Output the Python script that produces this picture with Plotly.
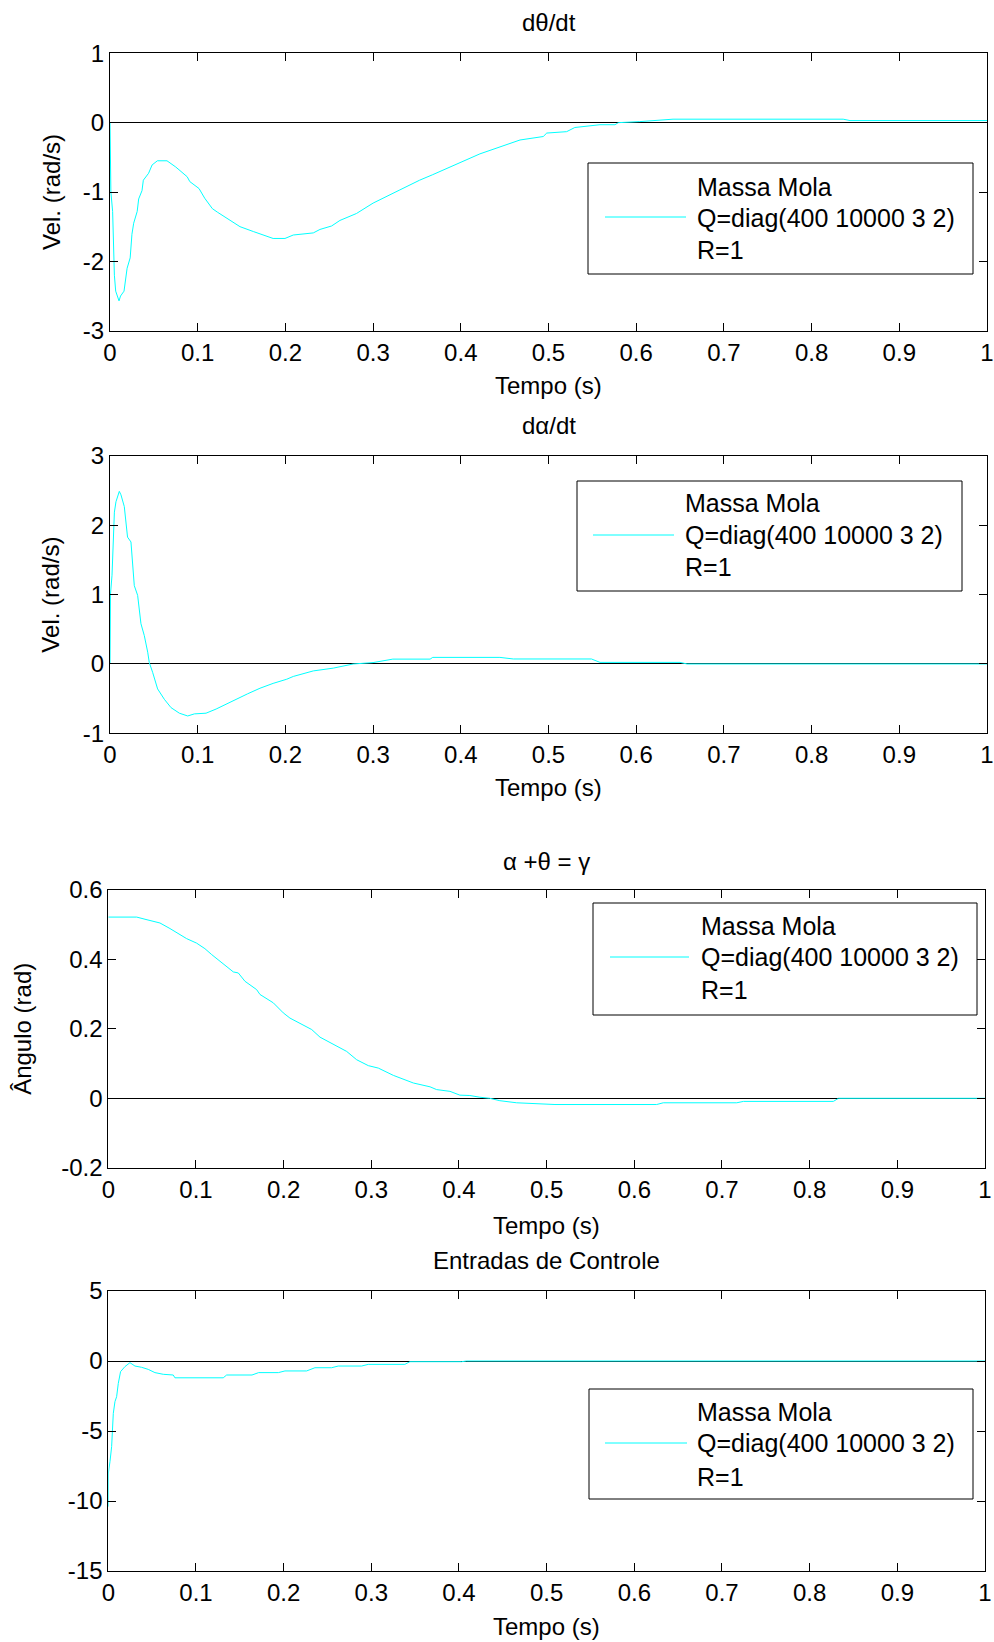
import plotly.graph_objects as go

W, H = 994, 1642

# ---------------- data ----------------
t_dtheta = [0, 0.001, 0.003, 0.005, 0.0065, 0.0103, 0.012, 0.016, 0.0195, 0.023, 0.025, 0.027,
            0.031, 0.0327, 0.0365, 0.038, 0.044, 0.048, 0.054, 0.065, 0.075, 0.08, 0.088, 0.091,
            0.1015, 0.108, 0.1167, 0.1224, 0.133, 0.1482, 0.1634, 0.1748, 0.186, 0.1995, 0.209,
            0.2318, 0.2394, 0.2527, 0.2622, 0.281, 0.30, 0.3305, 0.349, 0.353, 0.368, 0.3837,
            0.4066, 0.4218, 0.4447, 0.4675, 0.494, 0.498, 0.5207, 0.530, 0.5587, 0.5758, 0.5796,
            0.604, 0.642, 0.836, 0.8438, 1.0]
v_dtheta = [0, -1.0, -1.28, -2.2, -2.43, -2.57, -2.5, -2.43, -2.1, -1.95, -1.61, -1.45,
            -1.28, -1.1, -0.98, -0.83, -0.73, -0.61, -0.55, -0.55, -0.64, -0.69, -0.78, -0.85,
            -0.95, -1.09, -1.24, -1.29, -1.38, -1.50, -1.57, -1.62, -1.67, -1.67, -1.62,
            -1.59, -1.54, -1.49, -1.41, -1.31, -1.16, -0.97, -0.85, -0.83, -0.75, -0.66,
            -0.54, -0.45, -0.35, -0.25, -0.20, -0.15, -0.13, -0.07, -0.03, -0.03, 0.0,
            0.015, 0.05, 0.05, 0.03, 0.03]

t_dalpha = [0, 0.0005, 0.0023, 0.005, 0.0068, 0.0087, 0.0106, 0.0125, 0.0163, 0.02, 0.0239, 0.0277,
            0.0315, 0.0353, 0.0391, 0.043, 0.0448, 0.0486, 0.0543, 0.062, 0.0696, 0.0791, 0.0886,
            0.0962, 0.1095, 0.121, 0.14, 0.157, 0.171, 0.186, 0.2015, 0.209, 0.2318, 0.2546,
            0.2774, 0.30, 0.3225, 0.365, 0.368, 0.4446, 0.4599, 0.549, 0.5587, 0.65, 0.658, 1.0]
v_dalpha = [0, 1.0, 1.28, 2.19, 2.34, 2.41, 2.49, 2.44, 2.27, 1.83, 1.76, 1.13,
            0.99, 0.58, 0.41, 0.17, 0.02, -0.12, -0.36, -0.51, -0.63, -0.71, -0.75,
            -0.72, -0.71, -0.65, -0.53, -0.43, -0.35, -0.28, -0.22, -0.18, -0.10, -0.06,
            0.0, 0.02, 0.07, 0.07, 0.095, 0.095, 0.072, 0.072, 0.023, 0.023, 0.0, 0.0]

t_gamma = [0, 0.0324, 0.043, 0.0589, 0.0703, 0.0893, 0.1007, 0.1102, 0.1179, 0.135, 0.1426, 0.1483,
           0.1559, 0.1692, 0.173, 0.1882, 0.1996, 0.2072, 0.232, 0.2415, 0.2719, 0.2833, 0.2966,
           0.308, 0.3251, 0.348, 0.367, 0.3745, 0.3897, 0.401, 0.4124, 0.4238, 0.435, 0.4466,
           0.4658, 0.5095, 0.6255, 0.633, 0.7168, 0.7245, 0.827, 0.833, 1.0]
v_gamma = [0.522, 0.522, 0.515, 0.505, 0.489, 0.46, 0.447, 0.431, 0.414, 0.38, 0.364, 0.361,
           0.337, 0.313, 0.299, 0.275, 0.246, 0.231, 0.198, 0.176, 0.135, 0.111, 0.094,
           0.087, 0.066, 0.044, 0.033, 0.025, 0.020, 0.009, 0.008, 0.003, 0.0, -0.007,
           -0.013, -0.018, -0.018, -0.013, -0.013, -0.009, -0.009, 0.0, 0.0]

t_u = [0, 0.0001, 0.0019, 0.0038, 0.0057, 0.0076, 0.0095, 0.0114, 0.014, 0.019, 0.0247, 0.0266,
       0.0304, 0.038, 0.0456, 0.0532, 0.0627, 0.0741, 0.076, 0.1311, 0.135, 0.1639, 0.1715,
       0.194, 0.2015, 0.2262, 0.2357, 0.2547, 0.2623, 0.2889, 0.2965, 0.3383, 0.344, 0.4029,
       0.4086, 1.0]
v_u = [-10.4, -8.0, -7.19, -6.12, -3.74, -2.9, -2.55, -1.6, -0.76, -0.4, -0.12, -0.2,
       -0.36, -0.45, -0.6, -0.83, -0.95, -1.0, -1.2, -1.2, -1.0, -1.0, -0.83,
       -0.83, -0.71, -0.71, -0.48, -0.48, -0.36, -0.36, -0.24, -0.24, -0.05, -0.05,
       0.0, 0.0]

x_tickvals = [0, 0.1, 0.2, 0.3, 0.4, 0.5, 0.6, 0.7, 0.8, 0.9, 1]
x_ticktext = ["0", "0.1", "0.2", "0.3", "0.4", "0.5", "0.6", "0.7", "0.8", "0.9", "1"]
y1_tickvals = [-3, -2, -1, 0, 1]
y1_ticktext = ["-3", "-2", "-1", "0", "1"]
y2_tickvals = [-1, 0, 1, 2, 3]
y2_ticktext = ["-1", "0", "1", "2", "3"]
y3_tickvals = [-0.2, 0, 0.2, 0.4, 0.6]
y3_ticktext = ["-0.2", "0", "0.2", "0.4", "0.6"]
y4_tickvals = [-15, -10, -5, 0, 5]
y4_ticktext = ["-15", "-10", "-5", "0", "5"]

titles = ["dθ/dt", "dα/dt", "α +θ = γ", "Entradas de Controle"]
ylabels = ["Vel. (rad/s)", "Vel. (rad/s)", "Ângulo (rad)", ""]
xlabel = "Tempo (s)"
legend_lines = ["Massa Mola", "Q=diag(400 10000 3 2)", "R=1"]

# ---------------- layout geometry (pixels) ----------------
FONT = "Liberation Sans, Arial, sans-serif"
FS = 24
LFS = 25
CYAN = "#00FFFF"

def px(x):
    return x / W

def py(y):
    return 1 - y / H

panels = [
    dict(x0=110, x1=987, y0=53.3, y1=330.7, yr=[-3, 1], tv=y1_tickvals, tt=y1_ticktext,
         t=t_dtheta, v=v_dtheta, title_y=22, xl_y=386, yl_x=51,
         leg=dict(bx=(588, 973), by=(163, 274), lx=(605, 686), ly=217, tx=695, rows=(187, 218, 250))),
    dict(x0=110, x1=987, y0=456, y1=733.3, yr=[-1, 3], tv=y2_tickvals, tt=y2_ticktext,
         t=t_dalpha, v=v_dalpha, title_y=425, xl_y=788, yl_x=51,
         leg=dict(bx=(577, 962), by=(481, 591), lx=(593, 674), ly=535, tx=683, rows=(503, 535, 567))),
    dict(x0=108.3, x1=985, y0=890, y1=1167.7, yr=[-0.2, 0.6], tv=y3_tickvals, tt=y3_ticktext,
         t=t_gamma, v=v_gamma, title_y=862, xl_y=1225, yl_x=23,
         leg=dict(bx=(593, 977), by=(903, 1015), lx=(610, 689), ly=957, tx=699, rows=(926, 957, 990))),
    dict(x0=108.3, x1=985, y0=1291, y1=1571, yr=[-15, 5], tv=y4_tickvals, tt=y4_ticktext,
         t=t_u, v=v_u, title_y=1260, xl_y=1626, yl_x=40,
         leg=dict(bx=(589, 973), by=(1389, 1499), lx=(605, 687), ly=1443, tx=695, rows=(1412, 1443, 1477))),
]

fig = go.Figure()
shapes = []
annotations = []
layout = dict(
    width=W, height=H, autosize=False,
    margin=dict(l=0, r=0, t=0, b=0, pad=0, autoexpand=False),
    paper_bgcolor="white", plot_bgcolor="white",
    showlegend=False,
    font=dict(family=FONT, size=FS, color="black"),
)

for i, p in enumerate(panels):
    n = "" if i == 0 else str(i + 1)
    fig.add_trace(go.Scatter(x=p["t"], y=p["v"], mode="lines",
                             line=dict(color=CYAN, width=1),
                             xaxis="x" + n, yaxis="y" + n, name="Massa Mola"))
    common = dict(showline=True, linecolor="black", linewidth=1, mirror="allticks",
                  ticks="inside", ticklen=8, tickcolor="black", tickwidth=1,
                  showgrid=False, automargin=False,
                  tickfont=dict(family=FONT, size=FS, color="black"))
    layout["xaxis" + n] = dict(domain=[px(p["x0"]), px(p["x1"])], range=[0, 1],
                               anchor="y" + n, tickvals=x_tickvals, ticktext=x_ticktext,
                               zeroline=False, ticklabelstandoff=0, **common)
    layout["yaxis" + n] = dict(domain=[py(p["y1"]), py(p["y0"])], range=p["yr"],
                               anchor="x" + n, tickvals=p["tv"], ticktext=p["tt"],
                               zeroline=True, zerolinecolor="black", zerolinewidth=1,
                               ticklabelstandoff=0, **common)
    cx = (p["x0"] + p["x1"]) / 2
    annotations.append(dict(text=titles[i], x=px(cx), y=py(p["title_y"]), xref="paper", yref="paper",
                            xanchor="center", yanchor="middle", showarrow=False,
                            font=dict(family=FONT, size=FS, color="black")))
    annotations.append(dict(text=xlabel, x=px(cx), y=py(p["xl_y"]), xref="paper", yref="paper",
                            xanchor="center", yanchor="middle", showarrow=False,
                            font=dict(family=FONT, size=FS, color="black")))
    if ylabels[i]:
        annotations.append(dict(text=ylabels[i], x=px(p["yl_x"]), y=py((p["y0"] + p["y1"]) / 2),
                                xref="paper", yref="paper", xanchor="center", yanchor="middle",
                                textangle=-90, showarrow=False,
                                font=dict(family=FONT, size=FS, color="black")))
    lg = p["leg"]
    shapes.append(dict(type="rect", xref="paper", yref="paper",
                       x0=px(lg["bx"][0]), x1=px(lg["bx"][1]), y0=py(lg["by"][1]), y1=py(lg["by"][0]),
                       line=dict(color="black", width=1), fillcolor="white", layer="above"))
    shapes.append(dict(type="line", xref="paper", yref="paper",
                       x0=px(lg["lx"][0]), x1=px(lg["lx"][1]), y0=py(lg["ly"]), y1=py(lg["ly"]),
                       line=dict(color=CYAN, width=1), layer="above"))
    for txt, ry in zip(legend_lines, lg["rows"]):
        annotations.append(dict(text=txt, x=px(lg["tx"]), y=py(ry), xref="paper", yref="paper",
                                xanchor="left", yanchor="middle", showarrow=False,
                                font=dict(family=FONT, size=LFS, color="black")))

layout["shapes"] = shapes
layout["annotations"] = annotations
fig.update_layout(**layout)
fig.write_html("out.html",
               config={"displayModeBar": False, "responsive": False},
               post_script="document.body.style.margin='0';document.body.style.overflow='hidden';")
